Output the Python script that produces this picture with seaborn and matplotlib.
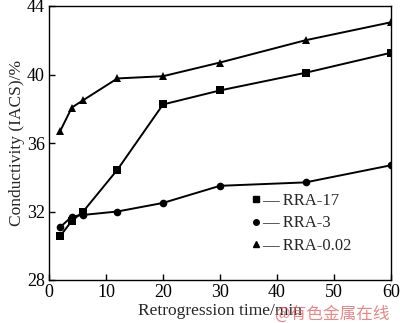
import matplotlib
matplotlib.use("Agg")
import matplotlib.pyplot as plt
import seaborn as sns
import pandas as pd
from matplotlib.lines import Line2D

sns.set_theme(style="ticks")
plt.rcParams['font.family'] = ['Liberation Serif', 'DejaVu Serif']

time = [2, 4, 6, 12, 20, 30, 45, 60]
rra17 = [30.58, 31.45, 32.0, 34.44, 38.25, 39.07, 40.1, 41.27]
rra3 = [31.1, 31.7, 31.8, 32.0, 32.5, 33.5, 33.7, 34.7]
rra002 = [36.72, 38.07, 38.5, 39.77, 39.9, 40.7, 42.0, 43.05]
series_names = ["RRA-17", "RRA-3", "RRA-0.02"]
markers = ["s", "o", "^"]

df = pd.concat([
    pd.DataFrame({"time": time, "cond": v, "series": n})
    for v, n in zip([rra17, rra3, rra002], series_names)
])

fig = plt.figure(figsize=(4.0, 3.23), dpi=100)
ax = fig.add_axes([49/400, 1-280/323, 342/400, 274/323])

for n, m in zip(series_names, markers):
    sub = df[df.series == n]
    sns.lineplot(data=sub, x="time", y="cond", ax=ax, color="black",
                 linewidth=1.4, marker=m, markersize=5.5, markeredgewidth=0,
                 markerfacecolor="black", legend=False)

ax.set_xlim(0, 60)
ax.set_ylim(28, 44)
ax.set_xticks([0, 10, 20, 30, 40, 50, 60])
ax.set_yticks([28, 32, 36, 40, 44])
ax.tick_params(direction="in", length=4, width=1, labelsize=13, colors="black",
               top=False, right=False, pad=3)
for s in ax.spines.values():
    s.set_linewidth(1.0)
    s.set_color("black")
ax.set_xlabel("Retrogression time/min", fontsize=12.5, labelpad=1)
ax.set_ylabel("Conductivity (IACS)/%", fontsize=12.5, labelpad=1)

handles = [Line2D([], [], color="black", marker=m, linestyle="none", markersize=4)
           for m in markers]
ax.legend(handles, ["\u2014 RRA-17", "\u2014 RRA-3", "\u2014 RRA-0.02"],
          loc="lower left", bbox_to_anchor=(0.57, 0.07), frameon=False,
          fontsize=12, handlelength=0.6, handletextpad=0.1, labelspacing=0.4,
          borderaxespad=0)

fig.text(0.975, 0.0, "@有色金属在线", ha="right", va="bottom", fontsize=12,
         color="#e06060", alpha=0.75, family=["Noto Sans CJK SC", "DejaVu Sans"])

fig.savefig("out.png", dpi=100)
